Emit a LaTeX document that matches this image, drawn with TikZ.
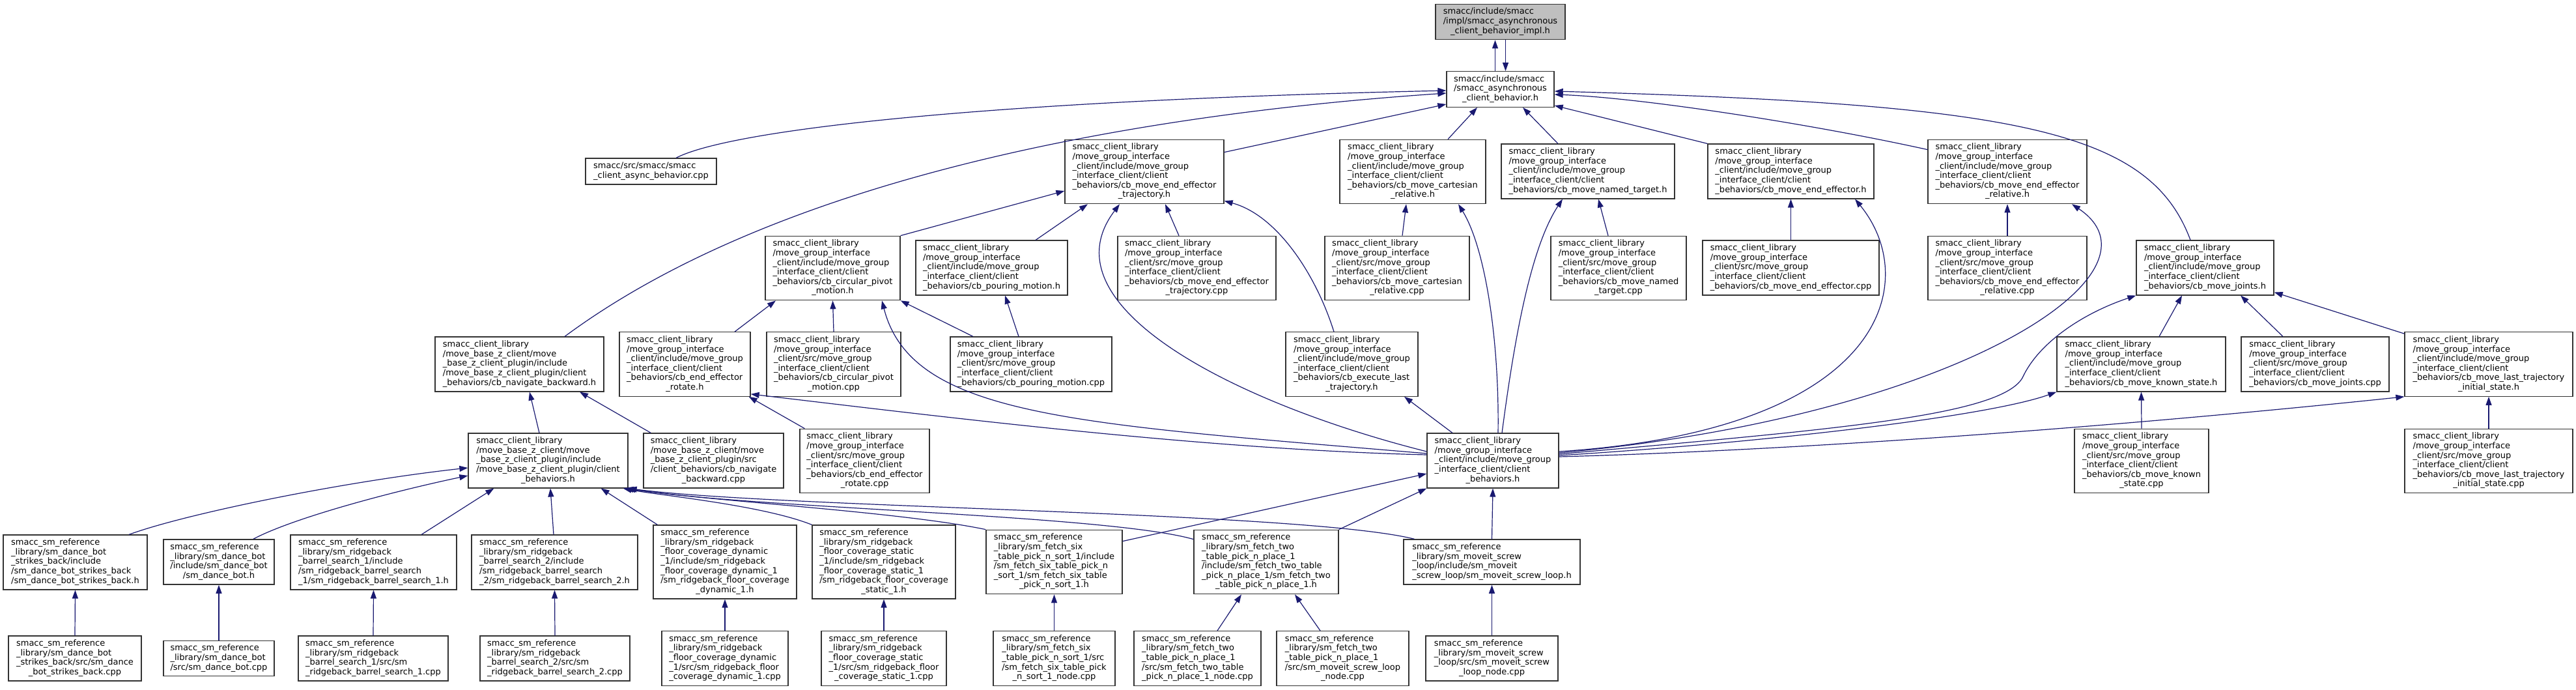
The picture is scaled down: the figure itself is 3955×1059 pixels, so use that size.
\documentclass[tikz,border=0pt]{standalone}
\usepackage{fontspec}
\setmainfont{DejaVu Sans}
\usetikzlibrary{arrows.meta}
\definecolor{incblue}{RGB}{25,25,112}
% label: all lines left, last line centred
\newcommand{\flab}[2]{\begin{tabular}{@{}l@{}}#1\\\multicolumn{1}{@{}c@{}}{#2}\end{tabular}}
\newcommand{\mgi}{smacc\_client\_library\\/move\_group\_interface\\\_client/include/move\_group\\\_interface\_client/client}
\newcommand{\mgs}{smacc\_client\_library\\/move\_group\_interface\\\_client/src/move\_group\\\_interface\_client/client}
\newcommand{\mbz}{smacc\_client\_library\\/move\_base\_z\_client/move\\\_base\_z\_client\_plugin/include\\/move\_base\_z\_client\_plugin/client}
\newcommand{\smr}{smacc\_sm\_reference}

\begin{document}
\begin{tikzpicture}[
  x=1pt,y=-1pt,
  filebox/.style={draw=black!80,line width=1.3pt,fill=white,inner xsep=6pt,inner ysep=5.4pt,
    minimum width=#1,font=\fontsize{13pt}{14.6pt}\selectfont},
  inc/.style={draw=incblue,line width=1.2pt,-{Triangle[length=13pt,width=9pt]}}
]
\useasboundingbox (0,0) rectangle (3955,1059);

% top
\node[filebox=199,fill=black!25] (impl) at (2303.5,33.5) {\flab{smacc/include/smacc\\/impl/smacc\_asynchronous}{\_client\_behavior\_impl.h}};
\node[filebox=165] (async) at (2303.5,137) {\flab{smacc/include/smacc\\/smacc\_asynchronous}{\_client\_behavior.h}};

% first row
\node[filebox=201] (acpp) at (999.5,263) {\flab{smacc/src/smacc/smacc}{\_client\_async\_behavior.cpp}};
\node[filebox=244] (traj) at (1757,263.5) {\flab{\mgi\\\_behaviors/cb\_move\_end\_effector}{\_trajectory.h}};
\node[filebox=224] (cart) at (2169,263.5) {\flab{\mgi\\\_behaviors/cb\_move\_cartesian}{\_relative.h}};
\node[filebox=266] (named) at (2438,263) {\flab{\mgi}{\_behaviors/cb\_move\_named\_target.h}};
\node[filebox=255] (ee) at (2749.5,263) {\flab{\mgi}{\_behaviors/cb\_move\_end\_effector.h}};
\node[filebox=244] (eerel) at (3082,263.5) {\flab{\mgi\\\_behaviors/cb\_move\_end\_effector}{\_relative.h}};

% second row
\node[filebox=207] (circ) at (1278.5,411.5) {\flab{\mgi\\\_behaviors/cb\_circular\_pivot}{\_motion.h}};
\node[filebox=233] (pourh) at (1522.5,411) {\flab{\mgi}{\_behaviors/cb\_pouring\_motion.h}};
\node[filebox=243] (trajcpp) at (1837.5,411.5) {\flab{\mgs\\\_behaviors/cb\_move\_end\_effector}{\_trajectory.cpp}};
\node[filebox=222] (cartcpp) at (2145,411.5) {\flab{\mgs\\\_behaviors/cb\_move\_cartesian}{\_relative.cpp}};
\node[filebox=208] (namedcpp) at (2485,411.5) {\flab{\mgs\\\_behaviors/cb\_move\_named}{\_target.cpp}};
\node[filebox=271] (eecpp) at (2749.5,411) {\flab{\mgs}{\_behaviors/cb\_move\_end\_effector.cpp}};
\node[filebox=244] (eerelcpp) at (3082,411.5) {\flab{\mgs\\\_behaviors/cb\_move\_end\_effector}{\_relative.cpp}};
\node[filebox=211] (joints) at (3385.5,411) {\flab{\mgi}{\_behaviors/cb\_move\_joints.h}};

% third row
\node[filebox=259] (navback) at (797.5,559) {\flab{\mbz}{\_behaviors/cb\_navigate\_backward.h}};
\node[filebox=201] (rotate) at (1051.5,559) {\flab{\mgi\\\_behaviors/cb\_end\_effector}{\_rotate.h}};
\node[filebox=206] (circcpp) at (1280,559) {\flab{\mgs\\\_behaviors/cb\_circular\_pivot}{\_motion.cpp}};
\node[filebox=248] (pourcpp) at (1583,559) {\flab{\mgs}{\_behaviors/cb\_pouring\_motion.cpp}};
\node[filebox=203] (exec) at (2075.5,559) {\flab{\mgi\\\_behaviors/cb\_execute\_last}{\_trajectory.h}};
\node[filebox=259] (known) at (3287.5,559) {\flab{\mgi}{\_behaviors/cb\_move\_known\_state.h}};
\node[filebox=227] (jointscpp) at (3554.5,559) {\flab{\mgs}{\_behaviors/cb\_move\_joints.cpp}};
\node[filebox=258] (lastinit) at (3821,559) {\flab{\mgi\\\_behaviors/cb\_move\_last\_trajectory}{\_initial\_state.h}};

% fourth row
\node[filebox=245] (cbh) at (841.5,707) {\flab{\mbz}{\_behaviors.h}};
\node[filebox=215] (navcpp) at (1095.5,707) {\flab{smacc\_client\_library\\/move\_base\_z\_client/move\\\_base\_z\_client\_plugin/src\\/client\_behaviors/cb\_navigate}{\_backward.cpp}};
\node[filebox=199] (rotcpp) at (1327.5,707.5) {\flab{\mgs\\\_behaviors/cb\_end\_effector}{\_rotate.cpp}};
\node[filebox=202] (mgcb) at (2292,707) {\flab{\mgi}{\_behaviors.h}};
\node[filebox=206] (knowncpp) at (3288,707.5) {\flab{\mgs\\\_behaviors/cb\_move\_known}{\_state.cpp}};
\node[filebox=258] (lastinitcpp) at (3821,707.5) {\flab{\mgs\\\_behaviors/cb\_move\_last\_trajectory}{\_initial\_state.cpp}};

% state machine headers
\node[filebox=221] (dbsbh) at (115.5,863) {\flab{\smr\\\_library/sm\_dance\_bot\\\_strikes\_back/include\\/sm\_dance\_bot\_strikes\_back}{/sm\_dance\_bot\_strikes\_back.h}};
\node[filebox=170] (dbh) at (336,862.5) {\flab{\smr\\\_library/sm\_dance\_bot\\/include/sm\_dance\_bot}{/sm\_dance\_bot.h}};
\node[filebox=255] (rb1h) at (573.5,863) {\flab{\smr\\\_library/sm\_ridgeback\\\_barrel\_search\_1/include\\/sm\_ridgeback\_barrel\_search}{\_1/sm\_ridgeback\_barrel\_search\_1.h}};
\node[filebox=255] (rb2h) at (851.5,863) {\flab{\smr\\\_library/sm\_ridgeback\\\_barrel\_search\_2/include\\/sm\_ridgeback\_barrel\_search}{\_2/sm\_ridgeback\_barrel\_search\_2.h}};
\node[filebox=220] (dynh) at (1113,862.5) {\flab{\smr\\\_library/sm\_ridgeback\\\_floor\_coverage\_dynamic\\\_1/include/sm\_ridgeback\\\_floor\_coverage\_dynamic\_1\\/sm\_ridgeback\_floor\_coverage}{\_dynamic\_1.h}};
\node[filebox=220] (stath) at (1357,862.5) {\flab{\smr\\\_library/sm\_ridgeback\\\_floor\_coverage\_static\\\_1/include/sm\_ridgeback\\\_floor\_coverage\_static\_1\\/sm\_ridgeback\_floor\_coverage}{\_static\_1.h}};
\node[filebox=209] (sixh) at (1618.5,862.5) {\flab{\smr\\\_library/sm\_fetch\_six\\\_table\_pick\_n\_sort\_1/include\\/sm\_fetch\_six\_table\_pick\_n\\\_sort\_1/sm\_fetch\_six\_table}{\_pick\_n\_sort\_1.h}};
\node[filebox=222] (twoh) at (1944,862.5) {\flab{\smr\\\_library/sm\_fetch\_two\\\_table\_pick\_n\_place\_1\\/include/sm\_fetch\_two\_table\\\_pick\_n\_place\_1/sm\_fetch\_two}{\_table\_pick\_n\_place\_1.h}};
\node[filebox=271] (screwh) at (2290.5,862.5) {\flab{\smr\\\_library/sm\_moveit\_screw\\\_loop/include/sm\_moveit}{\_screw\_loop/sm\_moveit\_screw\_loop.h}};

% state machine sources
\node[filebox=204] (dbsbcpp) at (115,1010.5) {\flab{\smr\\\_library/sm\_dance\_bot\\\_strikes\_back/src/sm\_dance}{\_bot\_strikes\_back.cpp}};
\node[filebox=170] (dbcpp) at (336,1010.5) {\flab{\smr\\\_library/sm\_dance\_bot}{/src/sm\_dance\_bot.cpp}};
\node[filebox=230] (rb1cpp) at (573,1010.5) {\flab{\smr\\\_library/sm\_ridgeback\\\_barrel\_search\_1/src/sm}{\_ridgeback\_barrel\_search\_1.cpp}};
\node[filebox=230] (rb2cpp) at (852,1010.5) {\flab{\smr\\\_library/sm\_ridgeback\\\_barrel\_search\_2/src/sm}{\_ridgeback\_barrel\_search\_2.cpp}};
\node[filebox=194] (dyncpp) at (1113,1010.5) {\flab{\smr\\\_library/sm\_ridgeback\\\_floor\_coverage\_dynamic\\\_1/src/sm\_ridgeback\_floor}{\_coverage\_dynamic\_1.cpp}};
\node[filebox=192] (statcpp) at (1357,1010.5) {\flab{\smr\\\_library/sm\_ridgeback\\\_floor\_coverage\_static\\\_1/src/sm\_ridgeback\_floor}{\_coverage\_static\_1.cpp}};
\node[filebox=187] (sixcpp) at (1618.5,1010.5) {\flab{\smr\\\_library/sm\_fetch\_six\\\_table\_pick\_n\_sort\_1/src\\/sm\_fetch\_six\_table\_pick}{\_n\_sort\_1\_node.cpp}};
\node[filebox=195] (twocpp) at (1838.5,1010.5) {\flab{\smr\\\_library/sm\_fetch\_two\\\_table\_pick\_n\_place\_1\\/src/sm\_fetch\_two\_table}{\_pick\_n\_place\_1\_node.cpp}};
\node[filebox=203] (twoscrew) at (2061.5,1010.5) {\flab{\smr\\\_library/sm\_fetch\_two\\\_table\_pick\_n\_place\_1\\/src/sm\_moveit\_screw\_loop}{\_node.cpp}};
\node[filebox=203] (screwcpp) at (2290.5,1010.5) {\flab{\smr\\\_library/sm\_moveit\_screw\\\_loop/src/sm\_moveit\_screw}{\_loop\_node.cpp}};

% straight up from source files
\foreach \a/\b in {circcpp/circ,eecpp/ee,eerelcpp/eerel,knowncpp/known,lastinitcpp/lastinit,
  dbsbcpp/dbsbh,dbcpp/dbh,rb1cpp/rb1h,rb2cpp/rb2h,dyncpp/dynh,statcpp/stath,sixcpp/sixh,
  screwcpp/screwh,screwh/mgcb}
  \draw[inc] (\a.north) -- (\b.south);

% impl <-> async
\draw[inc] ([xshift=-8pt]async.north) -- ([xshift=-8pt]impl.south);
\draw[inc] ([xshift=8pt]impl.south) -- ([xshift=8pt]async.north);

% into async
\draw[inc] ([xshift=38.5pt]acpp.north) .. controls (1120,200) and (1500,155) .. ([yshift=-2pt]async.west);
\draw[inc] ([xshift=69.5pt]navback.north) .. controls (1200,270) and (1750,175) .. ([yshift=-6pt]async.west);
\draw[inc] ([yshift=-20pt]traj.north east) -- ([yshift=5pt]async.south west);
\draw[inc] ([xshift=54pt]cart.north) -- ([xshift=-35.5pt]async.south);
\draw[inc] ([xshift=-46pt]named.north) -- ([xshift=34.5pt]async.south);
\draw[inc] (ee.north west) -- ([yshift=3pt]async.south east);
\draw[inc] ([yshift=-16pt]eerel.north west) .. controls (2780,190) and (2520,150) .. ([yshift=-8pt]async.east);
\draw[inc] ([xshift=-22.5pt]joints.north) .. controls (3300,200) and (3100,160) .. ([yshift=-3pt]async.east);

% into trajectory header
\draw[inc] (circ.north east) -- ([yshift=-29.5pt]traj.west);
\draw[inc] ([xshift=67.5pt]pourh.north) -- ([xshift=-87pt]traj.south);
\draw[inc] ([yshift=14pt]mgcb.west) .. controls (1900,620) and (1600,470) .. ([xshift=-38pt]traj.south);
\draw[inc] ([xshift=-27.5pt]trajcpp.north) -- ([xshift=32pt]traj.south);
\draw[inc] ([xshift=-27.5pt]exec.north) .. controls (2020,420) and (1960,330) .. ([yshift=5pt]traj.south east);

% into circular pivot, pouring, rotate
\draw[inc] ([xshift=76.5pt]rotate.north) -- ([xshift=-87.5pt]circ.south);
\draw[inc] ([yshift=11pt]mgcb.west) .. controls (1650,650) and (1400,640) .. ([xshift=75.5pt]circ.south);
\draw[inc] ([xshift=-89pt]pourcpp.north) -- (circ.south east);
\draw[inc] ([xshift=-19pt]pourcpp.north) -- ([xshift=20.5pt]pourh.south);
\draw[inc] ([xshift=8pt]rotcpp.north west) -- ([xshift=-3pt]rotate.south east);
\draw[inc] ([yshift=9pt]mgcb.west) .. controls (1850,690) and (1450,640) .. ([yshift=4pt]rotate.south east);

% into cartesian, named, end effector
\draw[inc] ([xshift=8pt]cartcpp.north) -- ([xshift=-10pt]cart.south);
\draw[inc] ([xshift=8pt]mgcb.north) .. controls (2302,520) and (2280,380) .. ([xshift=70pt]cart.south);
\draw[inc] ([xshift=14pt]mgcb.north) .. controls (2325,520) and (2350,380) .. ([xshift=-39pt]named.south);
\draw[inc] ([xshift=-16pt]namedcpp.north) -- ([xshift=16pt]named.south);
\draw[inc] ([yshift=14pt]mgcb.east) .. controls (2900,660) and (2950,430) .. ([xshift=98.5pt]ee.south);
\draw[inc] ([yshift=12pt]mgcb.east) .. controls (3000,640) and (3340,420) .. ([xshift=99pt]eerel.south);

% into joints, known state, last trajectory
\draw[inc] ([yshift=10pt]mgcb.east) .. controls (2800,660) and (3070,640) .. (3105,580)
  .. controls (3130,525) and (3200,480) .. (joints.south west);
\draw[inc] ([xshift=27.5pt]known.north) -- ([xshift=-35.5pt]joints.south);
\draw[inc] ([xshift=-49.5pt]jointscpp.north) -- ([xshift=54.5pt]joints.south);
\draw[inc] ([yshift=-3pt]lastinit.north west) -- ([yshift=5pt]joints.south east);
\draw[inc] ([yshift=8pt]mgcb.east) .. controls (2700,680) and (3050,640) .. (known.south west);
\draw[inc] ([yshift=6pt]mgcb.east) .. controls (2800,690) and (3300,650) .. (lastinit.south west);
\draw[inc] ([xshift=-62pt]mgcb.north) -- ([xshift=80.5pt]exec.south);

% into move group client behaviors
\draw[inc] ([yshift=-18pt]sixh.north east) -- ([yshift=-20pt]mgcb.west);
\draw[inc] (twoh.north east) -- (mgcb.south west);
\draw[inc] ([xshift=30.5pt]twocpp.north) -- ([xshift=-38pt]twoh.south);
\draw[inc] ([xshift=-34.5pt]twoscrew.north) -- ([xshift=44pt]twoh.south);

% into move base client behaviors
\draw[inc] ([xshift=82.5pt]dbsbh.north) .. controls (280,790) and (520,740) .. ([yshift=-11pt]cbh.west);
\draw[inc] ([xshift=53pt]dbh.north) .. controls (450,795) and (600,755) .. ([yshift=-23pt]cbh.west);
\draw[inc] ([xshift=73.5pt]rb1h.north) -- ([xshift=40pt]cbh.south west);
\draw[inc] ([xshift=-1.5pt]rb2h.north) -- ([xshift=3.5pt]cbh.south);
\draw[inc] ([xshift=7pt]dynh.north west) -- ([xshift=-42pt]cbh.south east);
\draw[inc] (stath.north west) .. controls (1170,775) and (1010,760) .. ([xshift=-8pt]cbh.south east);
\draw[inc] (sixh.north west) .. controls (1380,785) and (1100,770) .. ([xshift=-5pt]cbh.south east);
\draw[inc] ([yshift=-15pt]twoh.north west) .. controls (1700,790) and (1150,780) .. ([xshift=-2pt]cbh.south east);
\draw[inc] ([xshift=17pt]screwh.north west) .. controls (2000,785) and (1200,780) .. (cbh.south east);

% into navigate backward
\draw[inc] ([xshift=-13.5pt]cbh.north) -- ([xshift=15.5pt]navback.south);
\draw[inc] ([xshift=12pt]navcpp.north west) -- ([xshift=92.5pt]navback.south);
\end{tikzpicture}
\end{document}
